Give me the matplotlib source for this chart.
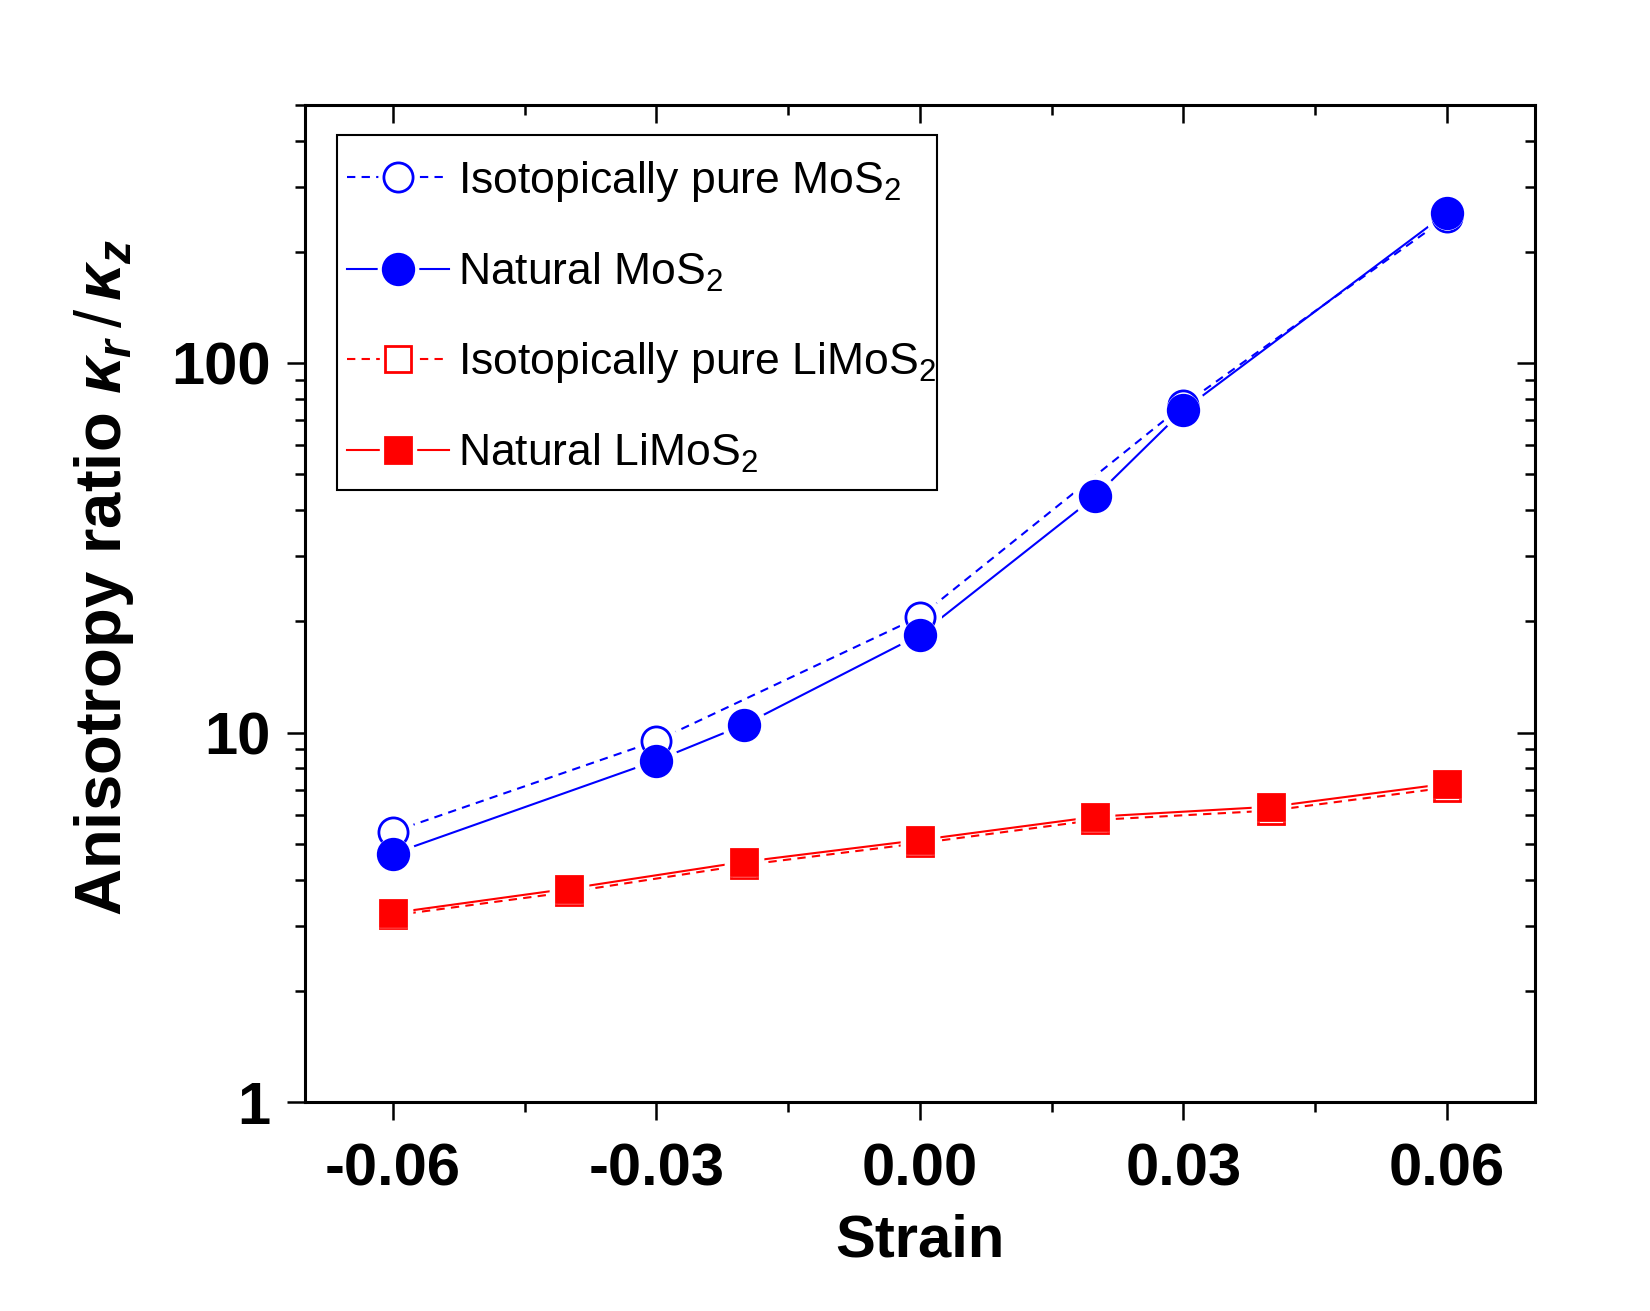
import matplotlib
matplotlib.use("Agg")
import matplotlib.pyplot as plt
from matplotlib.patches import Rectangle
from matplotlib.ticker import FixedLocator, FixedFormatter, LogLocator, NullFormatter, MultipleLocator
from matplotlib.legend_handler import HandlerTuple

plt.rcParams['font.family'] = ['Liberation Sans', 'DejaVu Sans']
plt.rcParams['mathtext.fontset'] = 'custom'
plt.rcParams['mathtext.rm'] = 'Liberation Sans'
plt.rcParams['mathtext.it'] = 'Liberation Sans:italic:bold'
plt.rcParams['mathtext.bf'] = 'Liberation Sans:bold'

# strain values and anisotropy ratios
strain_iso_mos2 = [-0.06, -0.03, 0.00, 0.03, 0.06]
ratio_iso_mos2 = [5.39, 9.5, 20.6, 77.0, 248.0]

strain_nat_mos2 = [-0.06, -0.03, -0.02, 0.00, 0.02, 0.03, 0.06]
ratio_nat_mos2 = [4.70, 8.40, 10.5, 18.4, 43.6, 74.6, 255.0]

strain_limos2 = [-0.06, -0.04, -0.02, 0.00, 0.02, 0.04, 0.06]
ratio_iso_limos2 = [3.20, 3.70, 4.38, 5.02, 5.80, 6.15, 7.10]
ratio_nat_limos2 = [3.25, 3.78, 4.47, 5.12, 5.92, 6.30, 7.27]

xticks = [-0.06, -0.03, 0.00, 0.03, 0.06]
xticklabels = ['-0.06', '-0.03', '0.00', '0.03', '0.06']
yticks = [1, 10, 100]
yticklabels = ['1', '10', '100']

fig = plt.figure(figsize=(16.5, 13.11), dpi=100)
ax = fig.add_axes([0.185, 0.1594, 0.745, 0.7606])

blue = '#0000ff'
red = '#ff0000'


def series(x, y, color, marker, ms, filled, ls, label, z):
    dash = (4, 3) if ls == '--' else (None, None)
    ax.plot(x, y, color=color, lw=1.5, ls=ls, dashes=dash, zorder=2)
    # white halo clips the line just short of each marker (Origin style)
    ax.plot(x, y, ls='none', marker=marker, ms=ms + 9, mfc='white', mec='white', zorder=3)
    ax.plot(x, y, ls='none', marker=marker, ms=ms + 1.5, mfc='white', mec='white', zorder=z - 0.5)
    ax.plot(x, y, ls='none', marker=marker, ms=ms, mec=color, mew=2,
            mfc=color if filled else 'white', zorder=z)
    # legend proxies: line, white gap, marker
    pl, = ax.plot([], [], color=color, lw=1.5, ls=ls)
    if ls == '--':
        pl.set_dashes((4, 3))
    ph, = ax.plot([], [], ls='none', marker=marker, ms=ms + 7, mfc='white', mec='white')
    pm, = ax.plot([], [], ls='none', marker=marker, ms=ms, mec=color, mew=2,
                  mfc=color if filled else 'white')
    return (pl, ph, pm), label


h1 = series(strain_iso_mos2, ratio_iso_mos2, blue, 'o', 21, False, '--', r'Isotopically pure MoS$_2$', 4)
h2 = series(strain_nat_mos2, ratio_nat_mos2, blue, 'o', 22, True, '-', r'Natural MoS$_2$', 6)
h3 = series(strain_limos2, ratio_iso_limos2, red, 's', 19, False, '--', r'Isotopically pure LiMoS$_2$', 4)
h4 = series(strain_limos2, ratio_nat_limos2, red, 's', 19, True, '-', r'Natural LiMoS$_2$', 6)

ax.set_yscale('log')
ax.set_xlim(-0.07, 0.07)
ax.set_ylim(1, 500)

ax.xaxis.set_major_locator(FixedLocator(xticks))
ax.xaxis.set_major_formatter(FixedFormatter(xticklabels))
ax.xaxis.set_minor_locator(MultipleLocator(0.015))
ax.yaxis.set_major_locator(FixedLocator(yticks))
ax.yaxis.set_major_formatter(FixedFormatter(yticklabels))
ax.yaxis.set_minor_locator(LogLocator(base=10, subs=range(2, 10)))
ax.yaxis.set_minor_formatter(NullFormatter())

ax.tick_params(which='major', direction='out', length=13, width=1.8, labelsize=43, pad=12)
ax.tick_params(which='minor', direction='out', length=7, width=1.8)
ax.tick_params(axis='x', which='major', pad=16)
for lab in ax.get_xticklabels() + ax.get_yticklabels():
    lab.set_fontweight('bold')

for s in ax.spines.values():
    s.set_linewidth(2.2)

# mirrored ticks on top and right, pointing inward
top = ax.twiny()
top.set_xlim(ax.get_xlim())
top.xaxis.set_major_locator(FixedLocator(xticks))
top.xaxis.set_minor_locator(MultipleLocator(0.015))
top.tick_params(which='major', direction='in', length=13, width=1.8, labeltop=False)
top.tick_params(which='minor', direction='in', length=7, width=1.8)
right = ax.twinx()
right.set_yscale('log')
right.set_ylim(ax.get_ylim())
right.yaxis.set_major_locator(FixedLocator(yticks))
right.yaxis.set_minor_locator(LogLocator(base=10, subs=range(2, 10)))
right.tick_params(which='major', direction='in', length=13, width=1.8, labelright=False)
right.tick_params(which='minor', direction='in', length=7, width=1.8, labelright=False)
right.yaxis.set_minor_formatter(NullFormatter())

ax.set_xlabel('Strain', fontsize=43, fontweight='bold', labelpad=12)
ax.set_ylabel(r'Anisotropy ratio $\kappa_r\,/\,\kappa_z$', fontsize=47, fontweight='bold')
ax.yaxis.set_label_coords(-0.138, 0.526)

handles = [h[0] for h in (h1, h2, h3, h4)]
labels = [h[1] for h in (h1, h2, h3, h4)]
leg = ax.legend(handles, labels, handler_map={tuple: HandlerTuple(ndivide=1)},
                loc='upper left', bbox_to_anchor=(0.034, 0.946),
                fontsize=32, frameon=False,
                handlelength=2.3, labelspacing=1.05, borderpad=0,
                handletextpad=0.2, borderaxespad=0)
leg.set_zorder(8)
# legend frame drawn separately (wider padding top/bottom than at the sides)
ax.add_patch(Rectangle((0.0256, 0.6134), 0.488, 0.3567, transform=ax.transAxes,
                       fill=True, facecolor='white', edgecolor='black', lw=1.5, zorder=7))

fig.savefig('out.png', dpi=100)
